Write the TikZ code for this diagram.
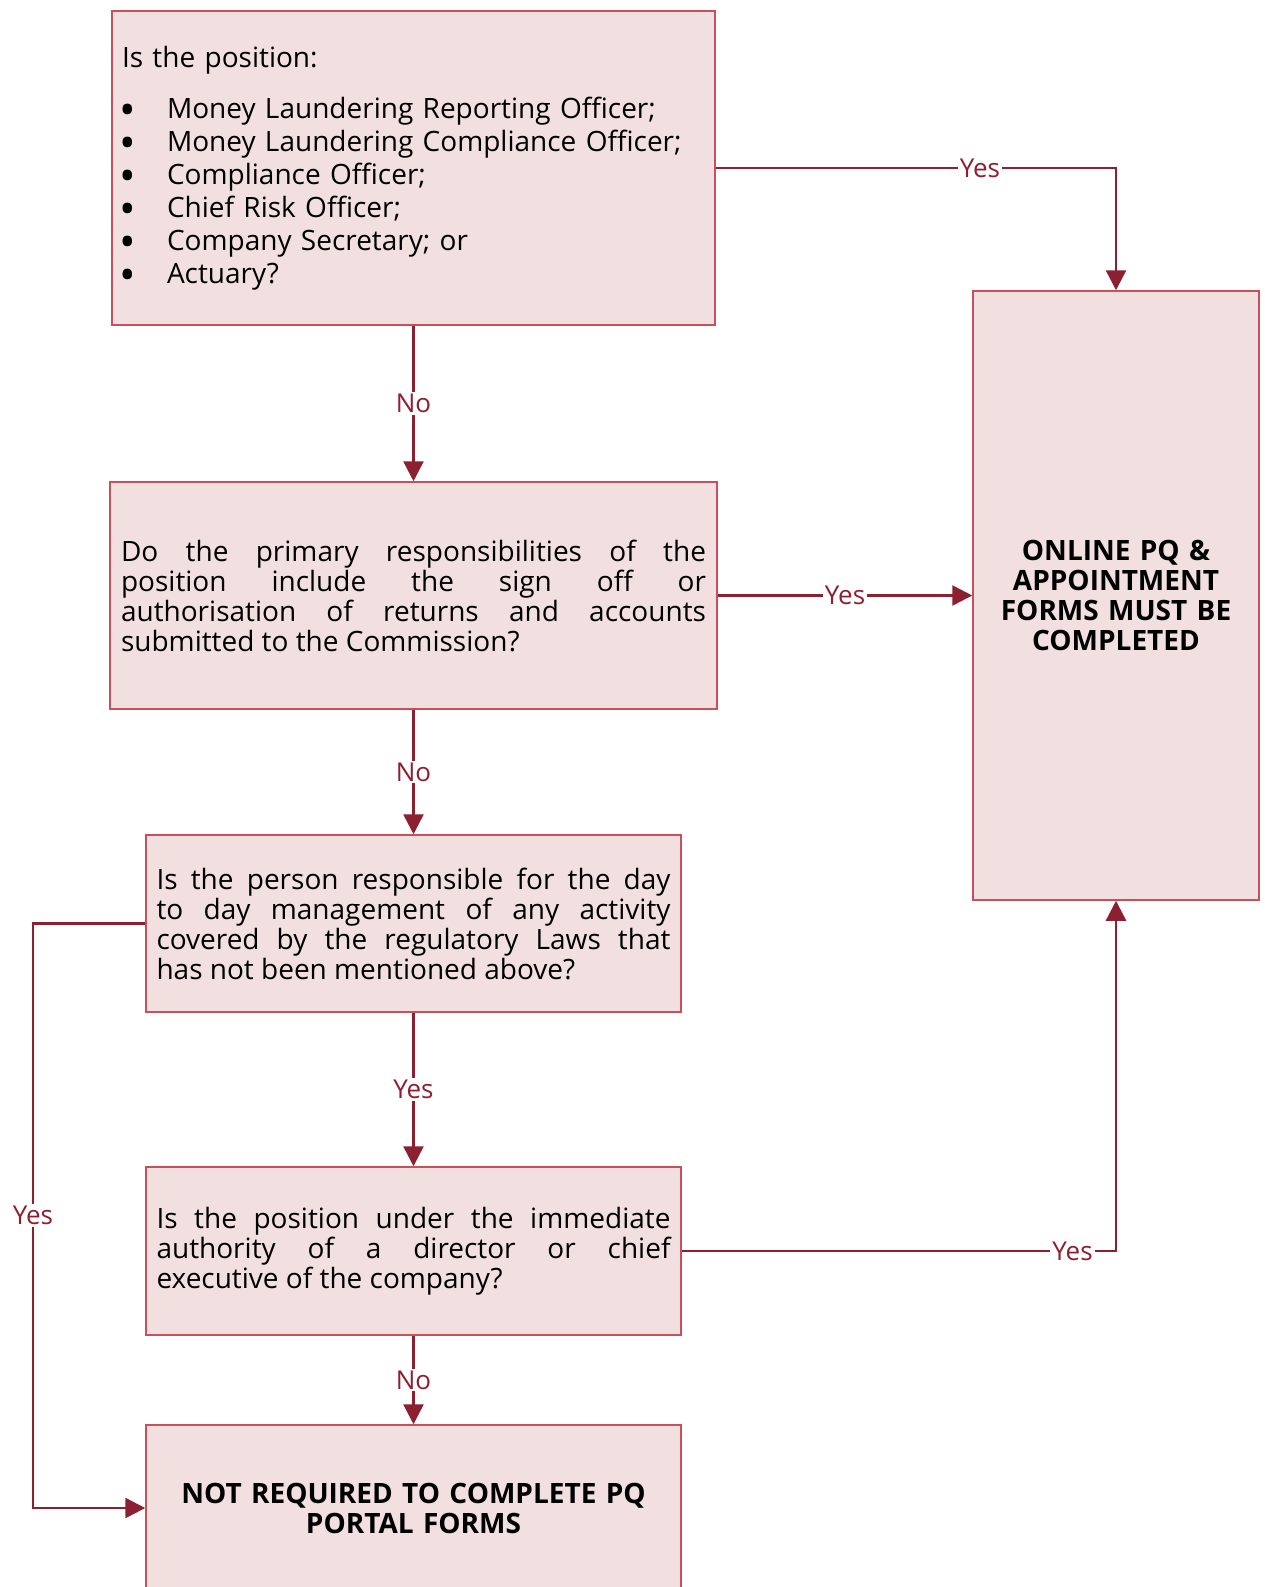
\documentclass[tikz,border=0pt]{standalone}
\usepackage{fontspec}
\setmainfont{Open Sans}
\usetikzlibrary{arrows.meta}
\definecolor{boxfill}{RGB}{242,224,225}
\definecolor{boxline}{RGB}{200,80,90}
\definecolor{flowred}{RGB}{140,31,48}
\newcommand{\itembul}{\makebox[45pt][l]{\hspace*{-3pt}\raisebox{-7pt}[0pt][0pt]{\fontsize{44}{33}\selectfont\textbullet}}}

\begin{document}
\begin{tikzpicture}[x=1pt,y=-1pt,
    box/.style={draw=boxline,fill=boxfill,line width=1.5pt,inner xsep=10pt,font=\fontsize{28}{30}\selectfont},
    flow/.style={draw=flowred,line width=2.5pt,-{Triangle[length=20pt,width=20pt]}},
    lbl/.style={fill=white,text=flowred,inner sep=2pt,font=\fontsize{26}{28}\selectfont}]
    \useasboundingbox (0,0) rectangle (1265,1587);
    \node[box,minimum width=603pt,minimum height=314pt,text width=583pt,align=left,font=\fontsize{28}{33}\selectfont] (q1) at (413.5,168) {Is the position:\\[18pt]
        \itembul Money Laundering Reporting Officer;\\
        \itembul Money Laundering Compliance Officer;\\
        \itembul Compliance Officer;\\
        \itembul Chief Risk Officer;\\
        \itembul Company Secretary; or\\
        \itembul Actuary?};
    \node[box,minimum width=607pt,minimum height=227pt,text width=585pt,align=justify] (q2) at (413.5,595.5) {Do the primary responsibilities of the\linebreak position include the sign off or\linebreak authorisation of returns and accounts\linebreak submitted to the Commission?};
    \node[box,minimum width=535pt,minimum height=177pt,text width=514pt,align=justify] (q3) at (413.5,923.5) {Is the person responsible for the day\linebreak to day management of any activity\linebreak covered by the regulatory Laws that\linebreak has not been mentioned above?};
    \node[box,minimum width=535pt,minimum height=168pt,text width=514pt,align=justify] (q4) at (413.5,1251) {Is the position under the immediate\linebreak authority of a director or chief\linebreak executive of the company?};
    \node[box,minimum width=535pt,minimum height=166pt,text width=514pt,align=center,font=\fontsize{28}{30}\selectfont\bfseries] (notreq) at (413.5,1508) {NOT REQUIRED TO COMPLETE PQ\\PORTAL FORMS};
    \node[box,minimum width=286pt,minimum height=609pt,text width=266pt,align=center,font=\fontsize{28}{30}\selectfont\bfseries] (online) at (1116,595.5) {ONLINE PQ \&\\APPOINTMENT\\FORMS MUST BE\\COMPLETED};
    \coordinate (leftrail) at (33,0);

    \draw[flow] (q1.east) -| (online.north) node[lbl,pos=0.33] {Yes};
    \draw[flow] (q1.south) -- (q2.north) node[lbl,midway] {No};
    \draw[flow] (q2.east) -- (online.west) node[lbl,midway] {Yes};
    \draw[flow] (q2.south) -- (q3.north) node[lbl,midway] {No};
    \draw[flow] (q3.south) -- (q4.north) node[lbl,midway] {Yes};
    \draw[flow] (q4.east) -| (online.south) node[lbl,pos=0.45] {Yes};
    \draw[flow] (q4.south) -- (notreq.north) node[lbl,midway] {No};
    \draw[flow] (q3.west) -- (q3.west -| leftrail) |- (notreq.west) node[lbl,pos=0.25] {Yes};
\end{tikzpicture}
\end{document}
